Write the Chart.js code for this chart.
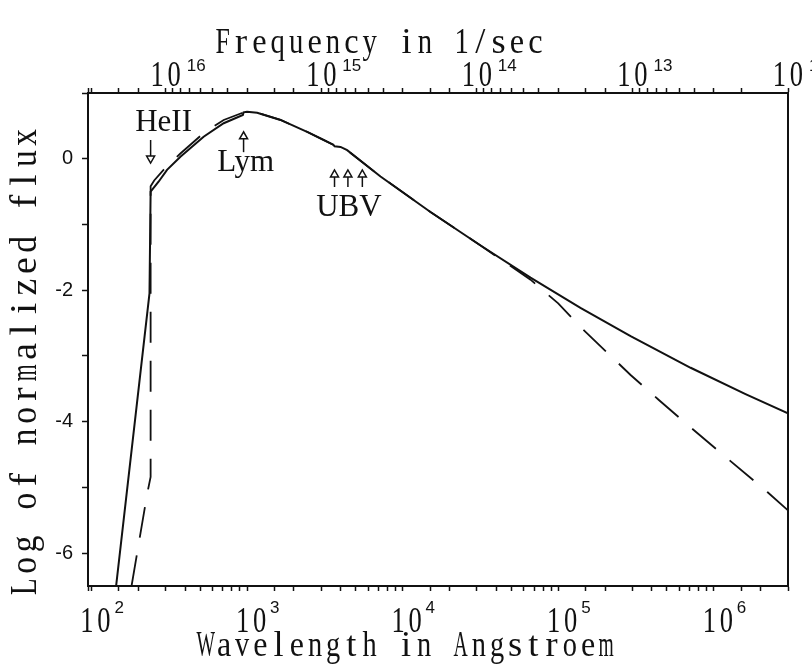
<!DOCTYPE html>
<html>
<head>
<meta charset="utf-8">
<script src="https://cdn.jsdelivr.net/npm/chart.js"></script>
<style>
  html, body { margin: 0; padding: 0; background: #fff; }
  canvas { display: block; }
</style>
</head>
<body>
<canvas id="sedChart" width="812" height="671"></canvas>
<script>
// wavelength in Angstroem / log of normalized flux, solid model
const solidWave = [144, 236, 240, 270, 306, 373, 526, 708, 940, 950, 1000, 1161, 1641, 2432, 3110, 3600, 3650, 3990, 4400, 7210, 15100, 31700, 66400, 139000, 292000, 710000, 1600000, 3000000];
const solidFlux = [-6.5, -2.05, -0.50, -0.35, -0.17, 0.03, 0.335, 0.54, 0.665, 0.705, 0.715, 0.70, 0.59, 0.41, 0.285, 0.21, 0.19, 0.18, 0.13, -0.27, -0.81, -1.32, -1.81, -2.27, -2.70, -3.18, -3.58, -3.875];

// dashed model
const dashWave = [181, 228, 240, 240, 253, 306, 373, 526, 708, 950, 1000, 1161, 1641, 2432, 3110, 3600, 4400, 7210, 15100, 31700, 66400, 100000, 139000, 292000, 443600, 628000, 1175000, 2210000, 3000000];
const dashFlux = [-6.5, -5.1, -4.84, -0.42, -0.33, -0.11, 0.08, 0.39, 0.59, 0.705, 0.715, 0.70, 0.59, 0.41, 0.285, 0.21, 0.13, -0.27, -0.81, -1.32, -1.84, -2.20, -2.56, -3.29, -3.67, -3.98, -4.525, -5.07, -5.35];

// decade tick labels
const waveExp = [2, 3, 4, 5, 6];
const freqExp = [16, 15, 14, 13, 12];

// marked edges and filters
const markWave = [240, 950, 3650, 4450, 5510];
const markText = ['HeII', 'Lym', 'UBV'];

const C_ANG = 3e18; // light speed in Angstroem/sec
const waveMin = 95, waveMax = 3.0e6;
const fluxMin = -6.5, fluxMax = 1.0;

const ink = '#111';
const serifFont = '"Liberation Serif", "Times New Roman", serif';
const sansFont = '"Liberation Sans", Arial, sans-serif';

function toPoints(xs, ys) {
    return xs.map((x, i) => ({ x: x, y: ys[i] }));
}

// typewriter look: every glyph gets the same cell width
function monoText(ctx, text, cx, y, size, advance, sy, rot) {
    ctx.save();
    ctx.translate(cx, y);
    if (rot) ctx.rotate(rot);
    ctx.font = size + 'px ' + serifFont;
    ctx.textAlign = 'center';
    ctx.textBaseline = 'alphabetic';
    const n = text.length;
    for (let i = 0; i < n; i++) {
        const ch = text[i];
        if (ch === ' ') continue;
        const w = ctx.measureText(ch).width;
        const sx = Math.max(0.7, Math.min(1.3, advance * 0.78 / w));
        ctx.save();
        ctx.translate((i - (n - 1) / 2) * advance, 0);
        ctx.scale(sx, sy);
        ctx.fillText(ch, 0, 0);
        ctx.restore();
    }
    ctx.restore();
}

function drawArrow(ctx, x, yTail, yHead) {
    const dir = yHead > yTail ? 1 : -1;
    const headLen = 7, half = 4;
    ctx.beginPath();
    ctx.moveTo(x, yTail);
    ctx.lineTo(x, yHead - dir * headLen);
    ctx.stroke();
    ctx.beginPath();
    ctx.moveTo(x, yHead);
    ctx.lineTo(x - half, yHead - dir * headLen);
    ctx.lineTo(x + half, yHead - dir * headLen);
    ctx.closePath();
    ctx.stroke();
}

// axis labels, titles and annotations
const textPlugin = {
    id: 'sedText',
    afterDraw(chart) {
        const ctx = chart.ctx;
        const xs = chart.scales.x, xt = chart.scales.x2, ys = chart.scales.y;
        ctx.save();
        ctx.fillStyle = ink;
        ctx.strokeStyle = ink;

        // bottom decades
        waveExp.forEach(n => {
            const px = xs.getPixelForValue(Math.pow(10, n)) + 4;
            monoText(ctx, '10', px, 632, 28, 17, 1.3);
            ctx.font = '17px ' + sansFont;
            ctx.textAlign = 'left';
            ctx.fillText(String(n), px + 19, 613);
        });

        // top decades
        freqExp.forEach(n => {
            const px = xt.getPixelForValue(Math.pow(10, n));
            monoText(ctx, '10', px, 86, 28, 17, 1.3);
            ctx.font = '17px ' + sansFont;
            ctx.textAlign = 'left';
            ctx.fillText(String(n), px + 21, 71);
        });

        // titles
        monoText(ctx, 'Wavelength in Angstroem', 406, 656, 28, 18.2, 1.25);
        monoText(ctx, 'Frequency in 1/sec', 379, 53, 28, 18.4, 1.25);
        monoText(ctx, 'Log of normalized flux', 36, 362, 31, 21.4, 1.25, -Math.PI / 2);

        // arrows
        ctx.lineWidth = 1.5;
        drawArrow(ctx, xs.getPixelForValue(markWave[0]), ys.getPixelForValue(0.285), ys.getPixelForValue(-0.065));
        drawArrow(ctx, xs.getPixelForValue(markWave[1]), ys.getPixelForValue(0.10), ys.getPixelForValue(0.41));
        for (let i = 2; i < 5; i++) {
            drawArrow(ctx, xs.getPixelForValue(markWave[i]), ys.getPixelForValue(-0.43), ys.getPixelForValue(-0.17));
        }

        // edge names
        ctx.font = '31px ' + serifFont;
        ctx.textAlign = 'center';
        ctx.textBaseline = 'alphabetic';
        ctx.fillText(markText[0], xs.getPixelForValue(markWave[0]) + 13, ys.getPixelForValue(0.42));
        ctx.fillText(markText[1], xs.getPixelForValue(markWave[1]) + 2, ys.getPixelForValue(-0.18));
        ctx.fillText(markText[2], xs.getPixelForValue(markWave[3]) + 1, ys.getPixelForValue(-0.87));
        ctx.restore();
    }
};

const tickGrid = {
    drawOnChartArea: false,
    drawTicks: true,
    tickLength: 5,
    tickWidth: 1.5,
    color: ink
};
const frame = { display: true, color: ink, width: 2 };

new Chart(document.getElementById('sedChart'), {
    type: 'line',
    data: {
        datasets: [{
            data: toPoints(solidWave, solidFlux),
            borderColor: ink,
            borderWidth: 2,
            pointRadius: 0,
            tension: 0
        }, {
            data: toPoints(dashWave, dashFlux),
            borderColor: ink,
            borderWidth: 1.8,
            borderDash: [31, 18],
            pointRadius: 0,
            tension: 0
        }]
    },
    options: {
        responsive: false,
        animation: false,
        devicePixelRatio: 1,
        layout: { padding: 0 },
        plugins: { legend: { display: false }, tooltip: { enabled: false } },
        scales: {
            x: {
                type: 'logarithmic',
                position: 'bottom',
                min: waveMin,
                max: waveMax,
                ticks: { display: false },
                grid: tickGrid,
                border: frame,
                afterFit: s => { s.height = 85; }
            },
            x2: {
                type: 'logarithmic',
                position: 'top',
                reverse: true,
                min: C_ANG / waveMax,
                max: C_ANG / waveMin,
                ticks: { display: false },
                grid: tickGrid,
                border: frame,
                afterFit: s => { s.height = 93; }
            },
            y: {
                type: 'linear',
                position: 'left',
                min: fluxMin,
                max: fluxMax,
                ticks: {
                    stepSize: 1,
                    padding: 9,
                    color: ink,
                    font: { family: sansFont, size: 20 },
                    callback: v => (Number.isInteger(v) && v % 2 === 0) ? String(v) : ''
                },
                grid: {
                    drawOnChartArea: false,
                    drawTicks: true,
                    tickLength: 6,
                    tickWidth: 1.5,
                    tickColor: c => Number.isInteger(c.tick.value) ? ink : 'rgba(0,0,0,0)'
                },
                border: frame,
                afterFit: s => { s.width = 88; }
            },
            y2: {
                type: 'linear',
                position: 'right',
                min: fluxMin,
                max: fluxMax,
                ticks: { display: false },
                grid: { drawOnChartArea: false, drawTicks: false },
                border: frame,
                afterFit: s => { s.width = 24; }
            }
        }
    },
    plugins: [textPlugin]
});
</script>
</body>
</html>
